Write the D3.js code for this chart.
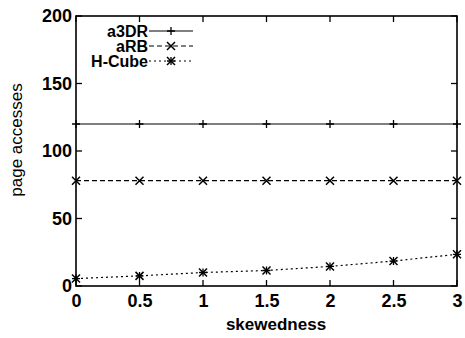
<!DOCTYPE html>
<meta charset="utf-8">
<style>
body { margin: 0; background: #fff; }
text { font-family: "Liberation Sans", Arial, sans-serif; fill: #000; }
.tick text { font-size: 18px; font-weight: bold; }
.lab { font-size: 17px; font-weight: bold; }
.ylab { font-size: 17px; }
.leg { font-size: 16px; font-weight: bold; }
</style>
<script src="https://d3js.org/d3.v7.min.js"></script>
<svg width="465" height="338"></svg>
<script>

var skew = [0, 0.5, 1, 1.5, 2, 2.5, 3];
var a3DR = [120, 120, 120, 120, 120, 120, 120];
var aRB = [78, 78, 78, 78, 78, 78, 78];
var hCube = [5.5, 7.5, 10, 11.5, 14.5, 18.5, 23.5];
var yTicks = [0, 50, 100, 150, 200];
var xTickLabels = ["0", "0.5", "1", "1.5", "2", "2.5", "3"];

var svg = d3.select("svg");
var mLeft = 76, mRight = 457, mTop = 16, mBottom = 286;

var x = d3.scaleLinear().domain([0, 3]).range([mLeft, mRight]);
var y = d3.scaleLinear().domain([0, 200]).range([mBottom, mTop]);

// frame
svg.append("rect")
    .attr("x", mLeft).attr("y", mTop)
    .attr("width", mRight - mLeft).attr("height", mBottom - mTop)
    .attr("fill", "none").attr("stroke", "#000").attr("stroke-width", 1.6);

var yAxis = svg.append("g")
    .attr("transform", "translate(" + mLeft + ",0)")
    .call(d3.axisLeft(y).tickValues(yTicks).tickSize(0).tickPadding(4));
yAxis.select(".domain").remove();

var xAxis = svg.append("g")
    .attr("transform", "translate(0," + mBottom + ")")
    .call(d3.axisBottom(x).tickValues(skew).tickSize(0).tickPadding(8)
      .tickFormat(function(d, i) { return xTickLabels[i]; }));
xAxis.select(".domain").remove();

// inward ticks
var tk = svg.append("g").attr("stroke", "#000").attr("stroke-width", 1.3);
yTicks.forEach(function(v) {
  tk.append("line").attr("x1", mLeft).attr("x2", mLeft + 6).attr("y1", y(v)).attr("y2", y(v));
  tk.append("line").attr("x1", mRight).attr("x2", mRight - 6).attr("y1", y(v)).attr("y2", y(v));
});
skew.forEach(function(v) {
  tk.append("line").attr("x1", x(v)).attr("x2", x(v)).attr("y1", mBottom).attr("y2", mBottom - 6);
  tk.append("line").attr("x1", x(v)).attr("x2", x(v)).attr("y1", mTop).attr("y2", mTop + 6);
});

function plus(g, cx, cy) {
  g.append("path").attr("d", "M" + (cx - 4) + "," + cy + "h8M" + cx + "," + (cy - 4) + "v8")
    .attr("stroke", "#000").attr("stroke-width", 1.3);
}
function cross(g, cx, cy) {
  g.append("path").attr("d", "M" + (cx - 4) + "," + (cy - 4) + "l8,8M" + (cx - 4) + "," + (cy + 4) + "l8,-8")
    .attr("stroke", "#000").attr("stroke-width", 1.5);
}
function star(g, cx, cy) {
  plus(g, cx, cy);
  cross(g, cx, cy);
}

var series = [
  { name: "a3DR", values: a3DR, dash: null, mark: plus },
  { name: "aRB", values: aRB, dash: "5,3", mark: cross },
  { name: "H-Cube", values: hCube, dash: "2,3", mark: star }
];

var line = d3.line().x(function(d, i) { return x(skew[i]); }).y(function(d) { return y(d); });

series.forEach(function(s, k) {
  var g = svg.append("g");
  g.append("path").datum(s.values)
    .attr("d", line).attr("fill", "none").attr("stroke", "#000")
    .attr("stroke-width", 1.2).attr("stroke-dasharray", s.dash);
  s.values.forEach(function(v, i) { s.mark(g, x(skew[i]), y(v)); });

  // legend
  var ly = 31 + k * 15;
  svg.append("text").attr("class", "leg").attr("x", 148).attr("y", ly + 6)
    .attr("text-anchor", "end").text(s.name);
  svg.append("line").attr("x1", 149).attr("x2", 193).attr("y1", ly).attr("y2", ly)
    .attr("stroke", "#000").attr("stroke-width", 1.2).attr("stroke-dasharray", s.dash);
  s.mark(svg, 171, ly);
});

svg.append("text").attr("class", "lab")
  .attr("x", 276).attr("y", 330).attr("text-anchor", "middle").text("skewedness");

svg.append("text").attr("class", "ylab")
  .attr("transform", "translate(22,140) rotate(-90)")
  .attr("text-anchor", "middle").text("page accesses");

</script>
